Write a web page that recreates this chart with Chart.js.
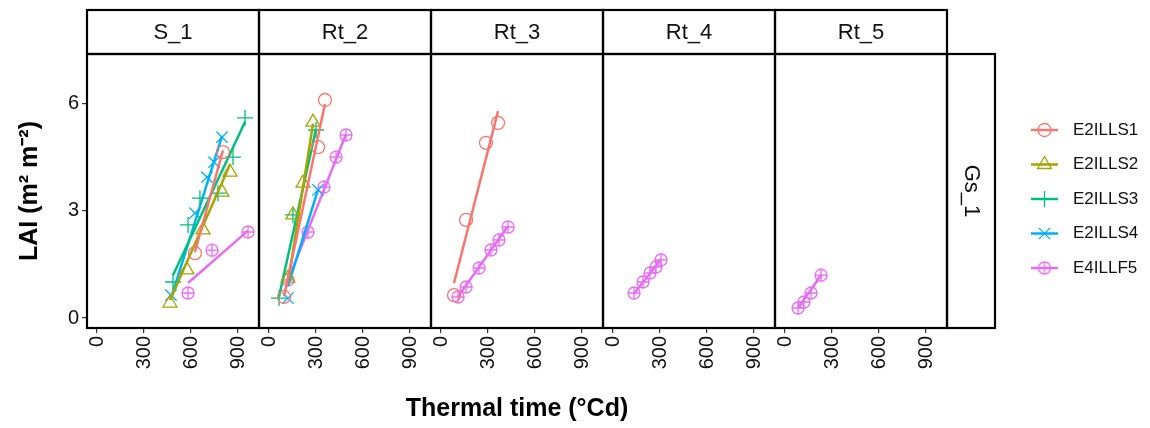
<!DOCTYPE html>
<html>
<head>
<meta charset="utf-8">
<script src="https://cdn.jsdelivr.net/npm/chart.js@4.4.0/dist/chart.umd.min.js"></script>
<style>
html,body{margin:0;padding:0;background:#fff;}
#wrap{width:1150px;height:428px;position:relative;}
</style>
</head>
<body>
<div id="wrap"><canvas id="c" width="1150" height="428"></canvas></div>
<script>
// ---------- data ----------
const panels = ['S_1', 'Rt_2', 'Rt_3', 'Rt_4', 'Rt_5'];
const rowStrip = 'Gs_1';
const seriesNames = ['E2ILLS1', 'E2ILLS2', 'E2ILLS3', 'E2ILLS4', 'E4ILLF5'];
const xTicks = [0, 300, 600, 900];
const yTicks = [0, 3, 6];

// S_1
const s1_E2ILLS1_tt = [625, 804];
const s1_E2ILLS1_lai = [1.82, 4.65];
const s1_E2ILLS1_fit = [1.85, 4.7];
const s1_E2ILLS2_tt = [466, 574, 677, 798, 849];
const s1_E2ILLS2_lai = [0.42, 1.35, 2.47, 3.53, 4.09];
const s1_E2ILLS2_fit = [0.5, 4.3];
const s1_E2ILLS3_tt = [485, 581, 657, 772, 868, 945];
const s1_E2ILLS3_lai = [1.01, 2.61, 3.36, 3.5, 4.51, 5.61];
const s1_E2ILLS3_fit = [1.2, 5.5];
const s1_E2ILLS4_tt = [472, 625, 702, 747, 798];
const s1_E2ILLS4_lai = [0.64, 2.94, 3.95, 4.37, 5.07];
const s1_E2ILLS4_fit = [0.55, 5.1];
const s1_E4ILLF5_tt = [581, 734, 964];
const s1_E4ILLF5_lai = [0.70, 1.9, 2.41];
const s1_E4ILLF5_fit = [0.98, 2.45];

// Rt_2
const rt2_E2ILLS1_tt = [96, 313, 357];
const rt2_E2ILLS1_lai = [0.59, 4.79, 6.11];
const rt2_E2ILLS1_fit = [0.6, 6.0];
const rt2_E2ILLS2_tt = [121, 153, 217, 281];
const rt2_E2ILLS2_lai = [1.12, 2.89, 3.78, 5.49];
const rt2_E2ILLS2_fit = [1.0, 5.45];
const rt2_E2ILLS3_tt = [64, 153, 300];
const rt2_E2ILLS3_lai = [0.56, 2.89, 5.27];
const rt2_E2ILLS3_fit = [0.6, 5.3];
const rt2_E2ILLS4_tt = [121, 313];
const rt2_E2ILLS4_lai = [0.56, 3.59];
const rt2_E2ILLS4_fit = [0.9, 3.6];
const rt2_E4ILLF5_tt = [121, 249, 351, 428, 491];
const rt2_E4ILLF5_lai = [1.07, 2.41, 3.67, 4.51, 5.13];
const rt2_E4ILLF5_fit = [1.05, 5.15];

// Rt_3
const rt3_E2ILLS1_tt = [83, 160, 287, 364];
const rt3_E2ILLS1_lai = [0.64, 2.75, 4.91, 5.47];
const rt3_E2ILLS1_fit = [0.98, 5.8];
const rt3_E4ILLF5_tt = [109, 160, 243, 319, 370, 428];
const rt3_E4ILLF5_lai = [0.59, 0.87, 1.40, 1.91, 2.19, 2.55];
const rt3_E4ILLF5_fit = [0.6, 2.58];

// Rt_4
const rt4_E4ILLF5_tt = [134, 191, 236, 274, 306];
const rt4_E4ILLF5_lai = [0.70, 1.01, 1.26, 1.43, 1.63];
const rt4_E4ILLF5_fit = [0.68, 1.65];

// Rt_5
const rt5_E4ILLF5_tt = [83, 121, 166, 230];
const rt5_E4ILLF5_lai = [0.28, 0.45, 0.70, 1.2];
const rt5_E4ILLF5_fit = [0.28, 1.2];

// ---------- assembly ----------
const obs = [
  {E2ILLS1:[s1_E2ILLS1_tt,s1_E2ILLS1_lai,s1_E2ILLS1_fit], E2ILLS2:[s1_E2ILLS2_tt,s1_E2ILLS2_lai,s1_E2ILLS2_fit],
   E2ILLS3:[s1_E2ILLS3_tt,s1_E2ILLS3_lai,s1_E2ILLS3_fit], E2ILLS4:[s1_E2ILLS4_tt,s1_E2ILLS4_lai,s1_E2ILLS4_fit],
   E4ILLF5:[s1_E4ILLF5_tt,s1_E4ILLF5_lai,s1_E4ILLF5_fit]},
  {E2ILLS1:[rt2_E2ILLS1_tt,rt2_E2ILLS1_lai,rt2_E2ILLS1_fit], E2ILLS2:[rt2_E2ILLS2_tt,rt2_E2ILLS2_lai,rt2_E2ILLS2_fit],
   E2ILLS3:[rt2_E2ILLS3_tt,rt2_E2ILLS3_lai,rt2_E2ILLS3_fit], E2ILLS4:[rt2_E2ILLS4_tt,rt2_E2ILLS4_lai,rt2_E2ILLS4_fit],
   E4ILLF5:[rt2_E4ILLF5_tt,rt2_E4ILLF5_lai,rt2_E4ILLF5_fit]},
  {E2ILLS1:[rt3_E2ILLS1_tt,rt3_E2ILLS1_lai,rt3_E2ILLS1_fit], E4ILLF5:[rt3_E4ILLF5_tt,rt3_E4ILLF5_lai,rt3_E4ILLF5_fit]},
  {E4ILLF5:[rt4_E4ILLF5_tt,rt4_E4ILLF5_lai,rt4_E4ILLF5_fit]},
  {E4ILLF5:[rt5_E4ILLF5_tt,rt5_E4ILLF5_lai,rt5_E4ILLF5_fit]}
];

const colors = {E2ILLS1:'#F8766D', E2ILLS2:'#A3A500', E2ILLS3:'#00BF7D', E2ILLS4:'#00B0F6', E4ILLF5:'#E76BF3'};

function circlePlus(color){
  const c = document.createElement('canvas');
  c.width = 16; c.height = 16;
  const g = c.getContext('2d');
  g.strokeStyle = color; g.lineWidth = 1.3;
  g.beginPath(); g.arc(8,8,6,0,Math.PI*2); g.stroke();
  g.beginPath(); g.moveTo(8,2); g.lineTo(8,14); g.moveTo(2,8); g.lineTo(14,8); g.stroke();
  return c;
}
const styles = {
  E2ILLS1:{pointStyle:'circle', radius:6.5},
  E2ILLS2:{pointStyle:'triangle', radius:8},
  E2ILLS3:{pointStyle:'cross', radius:8},
  E2ILLS4:{pointStyle:'crossRot', radius:8},
  E4ILLF5:{pointStyle:circlePlus(colors.E4ILLF5), radius:7}
};

const datasets = [];
obs.forEach((panel, i) => {
  seriesNames.forEach(s => {
    if (!panel[s]) return;
    const [tt, lai, fit] = panel[s];
    datasets.push({
      type:'scatter', label:s, xAxisID:'x'+i, yAxisID:'y',
      data: tt.map((t,k)=>({x:t, y:lai[k]})),
      showLine:false, pointStyle: styles[s].pointStyle, pointRadius: styles[s].radius,
      borderColor: colors[s], backgroundColor:'rgba(0,0,0,0)', pointBorderWidth:1.3
    });
    datasets.push({
      type:'line', label:s+' fit', xAxisID:'x'+i, yAxisID:'y',
      data: [{x:tt[0], y:fit[0]}, {x:tt[tt.length-1], y:fit[1]}],
      borderColor: colors[s], borderWidth:2.5, pointRadius:0, fill:false, tension:0
    });
  });
});

const FONT = "'Liberation Sans', Arial, Helvetica, sans-serif";
const scales = {
  y: {
    type:'linear', position:'left', min:-0.28, max:7.4,
    afterBuildTicks: s => { s.ticks = yTicks.map(v=>({value:v})); },
    afterFit: s => { s.width = 87; },
    ticks:{ font:{family:FONT, size:20}, color:'#111', padding:3 },
    grid:{ drawOnChartArea:false, tickLength:5, color:'#333', lineWidth:1.2 },
    border:{ display:false }
  }
};
panels.forEach((p,i) => {
  scales['x'+i] = {
    type:'linear', position:'bottom', stack:'panels', stackWeight:1,
    min:-64, max:1034,
    afterBuildTicks: s => { s.ticks = xTicks.map(v=>({value:v})); },
    afterFit: s => { s.height = 100; },
    ticks:{ font:{family:FONT, size:20}, color:'#111', padding:3, minRotation:90, maxRotation:90, autoSkip:false },
    grid:{ drawOnChartArea:false, tickLength:5, color:'#333', lineWidth:1.2 },
    border:{ display:false }
  };
});

const decor = {
  id:'decor',
  afterDraw(chart){
    const ctx = chart.ctx, a = chart.chartArea;
    ctx.save();
    ctx.strokeStyle = '#000'; ctx.lineWidth = 2.2;
    // top strips and panel borders
    panels.forEach((p,i) => {
      const sc = chart.scales['x'+i];
      ctx.strokeRect(sc.left, a.top, sc.right - sc.left, a.bottom - a.top);
      ctx.strokeRect(sc.left, 10, sc.right - sc.left, a.top - 10);
      ctx.fillStyle = '#111';
      ctx.font = "22px " + FONT;
      ctx.textAlign = 'center'; ctx.textBaseline = 'middle';
      ctx.fillText(p, (sc.left + sc.right)/2, (10 + a.top)/2 + 1);
    });
    // right strip
    ctx.strokeRect(a.right, a.top, 48, a.bottom - a.top);
    ctx.save();
    ctx.translate(a.right + 24, (a.top + a.bottom)/2);
    ctx.rotate(Math.PI/2);
    ctx.fillStyle = '#111';
    ctx.font = "22px " + FONT;
    ctx.textAlign = 'center'; ctx.textBaseline = 'middle';
    ctx.fillText(rowStrip, 0, 0);
    ctx.restore();
    // axis titles
    ctx.fillStyle = '#000';
    ctx.font = "bold 25px " + FONT;
    ctx.textAlign = 'center'; ctx.textBaseline = 'middle';
    ctx.fillText('Thermal time (°Cd)', (a.left + a.right)/2, 409);
    ctx.save();
    ctx.translate(30, (a.top + a.bottom)/2);
    ctx.rotate(-Math.PI/2);
    ctx.fillText('LAI (m² m⁻²)', 0, 0);
    ctx.restore();
    // legend
    seriesNames.forEach((s,k) => {
      const y = 130 + k*34.5;
      ctx.strokeStyle = colors[s]; ctx.lineWidth = 2.5;
      ctx.beginPath(); ctx.moveTo(1031, y); ctx.lineTo(1058, y); ctx.stroke();
      ctx.lineWidth = 1.3; ctx.fillStyle = 'rgba(0,0,0,0)';
      Chart.helpers.drawPoint(ctx, {pointStyle: styles[s].pointStyle, radius: styles[s].radius, rotation:0, borderWidth:1.3}, 1044.5, y);
      ctx.fillStyle = '#111';
      ctx.font = "17px " + FONT;
      ctx.textAlign = 'left'; ctx.textBaseline = 'middle';
      ctx.fillText(s, 1073, y);
    });
    ctx.restore();
  }
};

new Chart(document.getElementById('c'), {
  data:{ datasets },
  options:{
    responsive:false, animation:false, devicePixelRatio:1,
    layout:{ padding:{ top:54, right:203, left:0, bottom:0 } },
    scales,
    plugins:{ legend:{display:false}, tooltip:{enabled:false} }
  },
  plugins:[decor]
});
</script>
</body>
</html>
